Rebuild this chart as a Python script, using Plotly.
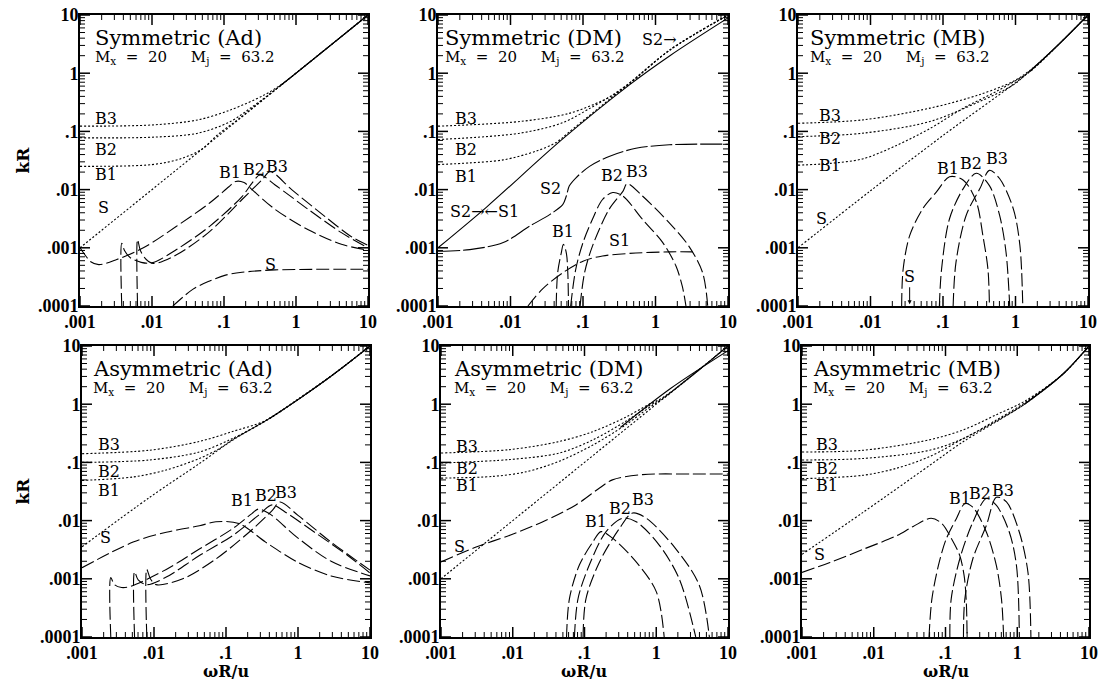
import math
import plotly.graph_objects as go

# ---------------- data ----------------
x_ticks = [0.001, 0.01, 0.1, 1, 10]
x_ticktext = [".001", ".01", ".1", "1", "10"]
y_ticks = [0.0001, 0.001, 0.01, 0.1, 1, 10]
y_ticktext = [".0001", ".001", ".01", ".1", "1", "10"]
minor_mult = [2, 3, 4, 5, 6, 7, 8, 9]
minor_decades = [0.0001, 0.001, 0.01, 0.1, 1]

# Panel 1 : Symmetric (Ad)
p1_S_dot_x = [0.001, 10]
p1_S_dot_y = [0.001, 10]
p1_top_x = [0.6, 10]
p1_top_y = [0.6, 10]
p1_B3_dot_x = [0.001, 0.01, 0.0437, 0.123, 0.355, 0.631, 1.58, 10]
p1_B3_dot_y = [0.123, 0.129, 0.158, 0.234, 0.417, 0.646, 1.58, 10]
p1_B2_dot_x = [0.001, 0.01, 0.0437, 0.123, 0.251, 0.398, 1.58, 10]
p1_B2_dot_y = [0.0776, 0.0794, 0.0933, 0.148, 0.269, 0.407, 1.58, 10]
p1_B1_dot_x = [0.001, 0.01, 0.0251, 0.0501, 0.0794, 0.158, 1.58, 10]
p1_B1_dot_y = [0.0251, 0.0269, 0.0339, 0.0501, 0.0851, 0.162, 1.58, 10]
p1_B1_x = [0.001, 0.00117, 0.00141, 0.00182, 0.00324, 0.00759, 0.0219, 0.0631, 0.117, 0.145, 0.19, 0.245, 0.513, 1.48, 4.27, 10]
p1_B1_y = [0.001, 0.000759, 0.000575, 0.000513, 0.00063, 0.001, 0.00234, 0.00589, 0.0112, 0.0138, 0.0132, 0.01, 0.00457, 0.00204, 0.00115, 0.00091]
p1_B2_x = [0.0038, 0.0038, 0.00417, 0.005, 0.00708, 0.01, 0.0219, 0.0631, 0.178, 0.245, 0.316, 0.513, 1.48, 4.27, 10]
p1_B2_y = [0.0001, 0.0012, 0.00089, 0.000676, 0.000562, 0.00055, 0.000933, 0.00234, 0.00759, 0.0129, 0.0178, 0.012, 0.00457, 0.00182, 0.001]
p1_B3_x = [0.0063, 0.0063, 0.00692, 0.00832, 0.0105, 0.0219, 0.0631, 0.178, 0.339, 0.437, 0.871, 2.51, 5.75, 10]
p1_B3_y = [0.0001, 0.00138, 0.00089, 0.00063, 0.000537, 0.000759, 0.0019, 0.00676, 0.0148, 0.0204, 0.01, 0.00347, 0.00158, 0.0011]
p1_S_x = [0.0195, 0.0372, 0.0631, 0.105, 0.178, 0.513, 10]
p1_S_y = [0.0001, 0.000195, 0.000269, 0.000339, 0.00038, 0.000417, 0.000427]

# Panel 2 : Symmetric (DM)
p2_diag_x = [0.001, 0.00468, 0.0501, 0.437, 1.58, 10]
p2_diag_y = [0.001, 0.00501, 0.0708, 0.631, 2.0, 8.91]
p2_B1_dot_x = [0.001, 0.00275, 0.00794, 0.0224, 0.0427, 0.0631, 0.437, 1.58, 10]
p2_B1_dot_y = [0.0269, 0.0288, 0.0324, 0.0457, 0.0646, 0.0955, 0.676, 2.51, 10]
p2_B2_dot_x = [0.001, 0.0135, 0.0525, 0.126, 0.251, 0.437, 1.58, 10]
p2_B2_dot_y = [0.0724, 0.0933, 0.141, 0.251, 0.417, 0.676, 2.51, 10]
p2_B3_dot_x = [0.001, 0.0135, 0.0646, 0.186, 0.324, 0.437, 1.58, 10]
p2_B3_dot_y = [0.123, 0.148, 0.204, 0.339, 0.49, 0.65, 2.51, 10]
p2_S2_x = [0.001, 0.00275, 0.00794, 0.0182, 0.0347, 0.0525, 0.0589, 0.0646, 0.0794, 0.123, 0.229, 0.537, 1.55, 10]
p2_S2_y = [0.00087, 0.00093, 0.00123, 0.00234, 0.00372, 0.0055, 0.00776, 0.0115, 0.0158, 0.0251, 0.0372, 0.0513, 0.0589, 0.0603]
p2_S1_x = [0.0174, 0.0275, 0.0525, 0.1, 0.186, 0.537, 1.55, 3.24]
p2_S1_y = [0.0001, 0.000195, 0.000372, 0.000589, 0.000724, 0.000813, 0.000851, 0.000851]
p2_B1_x = [0.0427, 0.0447, 0.0501, 0.0537, 0.0589, 0.0617, 0.0631]
p2_B1_y = [0.0001, 0.000372, 0.000813, 0.00115, 0.000813, 0.000372, 0.0001]
p2_B2_x = [0.0676, 0.0794, 0.1, 0.135, 0.186, 0.257, 0.355, 0.661, 1.26, 1.91, 2.34, 2.63]
p2_B2_y = [0.0001, 0.000427, 0.00123, 0.00309, 0.00676, 0.00891, 0.00776, 0.00309, 0.00123, 0.00049, 0.000219, 0.0001]
p2_B3_x = [0.0912, 0.105, 0.135, 0.229, 0.355, 0.407, 0.661, 1.55, 2.88, 4.47, 5.25]
p2_B3_y = [0.0001, 0.000372, 0.00107, 0.00457, 0.00933, 0.0126, 0.00776, 0.00269, 0.00107, 0.000372, 0.0001]

# Panel 3 : Symmetric (MB)
p3_S_dot_x = [0.001, 0.01, 0.1, 1.58, 3.98, 10]
p3_S_dot_y = [0.001, 0.00955, 0.0851, 1.07, 3.16, 10]
p3_top_x = [1.58, 3.98, 10]
p3_top_y = [1.07, 3.16, 10]
p3_B3_dot_x = [0.001, 0.00794, 0.0661, 0.316, 0.933, 1.58, 3.98, 10]
p3_B3_dot_y = [0.138, 0.158, 0.251, 0.427, 0.724, 1.12, 3.16, 10]
p3_B2_dot_x = [0.001, 0.00794, 0.0661, 0.316, 0.933, 1.58, 3.98, 10]
p3_B2_dot_y = [0.0813, 0.0933, 0.148, 0.324, 0.631, 1.1, 3.16, 10]
p3_B1_dot_x = [0.001, 0.00275, 0.00794, 0.0229, 0.0661, 0.191, 0.55, 1.58, 3.98, 10]
p3_B1_dot_y = [0.0263, 0.0282, 0.0339, 0.0575, 0.112, 0.251, 0.49, 1.07, 3.16, 10]
p3_B1_x = [0.0269, 0.0282, 0.0347, 0.0525, 0.0813, 0.123, 0.191, 0.288, 0.355, 0.417, 0.437]
p3_B1_y = [0.0001, 0.000427, 0.00162, 0.00468, 0.00912, 0.0166, 0.0145, 0.00617, 0.00162, 0.000427, 0.0001]
p3_B2_x = [0.0891, 0.0955, 0.123, 0.191, 0.288, 0.437, 0.603, 0.741, 0.832]
p3_B2_y = [0.0001, 0.000427, 0.00316, 0.0105, 0.0191, 0.0117, 0.00363, 0.000832, 0.0001]
p3_B3_x = [0.138, 0.151, 0.209, 0.324, 0.437, 0.603, 0.933, 1.15, 1.26]
p3_B3_y = [0.0001, 0.000562, 0.00363, 0.0105, 0.0214, 0.0155, 0.00468, 0.0011, 0.0001]

# Panel 4 : Asymmetric (Ad)
p4_S_dot_x = [0.001, 0.0087, 0.0427, 0.123, 0.398, 1.0, 3.16, 10]
p4_S_dot_y = [0.00355, 0.0251, 0.0955, 0.24, 0.562, 1.2, 3.31, 10]
p4_top_x = [0.398, 1.0, 3.16, 10]
p4_top_y = [0.562, 1.2, 3.31, 10]
p4_B3_dot_x = [0.001, 0.0087, 0.0427, 0.123, 0.355, 1.0, 3.16, 10]
p4_B3_dot_y = [0.141, 0.162, 0.229, 0.339, 0.525, 1.22, 3.31, 10]
p4_B2_dot_x = [0.001, 0.0087, 0.0427, 0.123, 0.355, 1.0, 3.16, 10]
p4_B2_dot_y = [0.1, 0.11, 0.151, 0.257, 0.52, 1.21, 3.31, 10]
p4_B1_dot_x = [0.001, 0.00513, 0.0148, 0.0427, 0.0794, 0.123, 0.355, 1.0, 3.16, 10]
p4_B1_dot_y = [0.049, 0.0562, 0.0741, 0.117, 0.17, 0.245, 0.52, 1.2, 3.31, 10]
p4_S_x = [0.001, 0.00513, 0.0148, 0.0427, 0.0724, 0.151, 0.355, 1.0, 2.88, 10]
p4_S_y = [0.00155, 0.00427, 0.00631, 0.00813, 0.00955, 0.00891, 0.00427, 0.00191, 0.00112, 0.00085]
p4_B1_x = [0.00251, 0.00251, 0.00282, 0.00355, 0.00468, 0.0148, 0.0427, 0.123, 0.229, 0.282, 0.398, 1.0, 2.88, 10]
p4_B1_y = [0.0001, 0.00105, 0.000794, 0.000708, 0.000741, 0.00145, 0.00324, 0.00724, 0.0132, 0.0158, 0.0132, 0.00501, 0.002, 0.00112]
p4_B2_x = [0.00537, 0.00537, 0.00603, 0.00794, 0.0148, 0.0427, 0.123, 0.282, 0.437, 0.661, 1.7, 4.9, 10]
p4_B2_y = [0.0001, 0.00132, 0.000955, 0.000794, 0.00107, 0.00251, 0.0055, 0.0123, 0.0186, 0.0141, 0.00631, 0.00251, 0.00126]
p4_B3_x = [0.00794, 0.00794, 0.00891, 0.0107, 0.0251, 0.0724, 0.209, 0.437, 0.562, 1.0, 2.88, 10]
p4_B3_y = [0.0001, 0.00145, 0.001, 0.000794, 0.001, 0.00219, 0.00631, 0.0148, 0.0209, 0.0123, 0.00427, 0.00141]

# Panel 5 : Asymmetric (DM)
p5_S_dot_x = [0.001, 10]
p5_S_dot_y = [0.001, 10]
p5_top_x = [0.316, 1.58, 10]
p5_top_y = [0.398, 1.86, 8.32]
p5_B3_dot_x = [0.001, 0.00912, 0.0447, 0.132, 0.38, 0.794, 1.26, 10]
p5_B3_dot_y = [0.145, 0.166, 0.229, 0.339, 0.603, 1.0, 1.32, 10]
p5_B2_dot_x = [0.001, 0.00912, 0.0447, 0.132, 0.38, 0.794, 1.26, 10]
p5_B2_dot_y = [0.0977, 0.112, 0.145, 0.245, 0.513, 0.933, 1.29, 10]
p5_B1_dot_x = [0.001, 0.00537, 0.0155, 0.0447, 0.132, 0.38, 0.794, 1.26, 10]
p5_B1_dot_y = [0.0537, 0.0575, 0.0692, 0.105, 0.2, 0.447, 0.871, 1.26, 10]
p5_S_x = [0.001, 0.00316, 0.00912, 0.0263, 0.0759, 0.162, 0.245, 0.646, 3.16, 10]
p5_S_y = [0.00195, 0.00355, 0.00562, 0.00955, 0.0186, 0.0363, 0.0501, 0.0617, 0.0631, 0.0631]
p5_B1_x = [0.0562, 0.0617, 0.0851, 0.132, 0.17, 0.245, 0.525, 1.0, 1.29]
p5_B1_y = [0.0001, 0.000457, 0.00174, 0.00437, 0.00646, 0.00501, 0.00195, 0.000603, 0.0001]
p5_B2_x = [0.0724, 0.0813, 0.117, 0.2, 0.339, 0.525, 1.1, 2.09, 3.55]
p5_B2_y = [0.0001, 0.000457, 0.00174, 0.00646, 0.011, 0.00955, 0.0038, 0.001, 0.0001]
p5_B3_x = [0.0955, 0.105, 0.162, 0.309, 0.468, 0.724, 1.86, 3.98, 5.5]
p5_B3_y = [0.0001, 0.000457, 0.00195, 0.00741, 0.0135, 0.011, 0.00331, 0.000776, 0.0001]

# Panel 6 : Asymmetric (MB)
p6_S_dot_x = [0.001, 0.00724, 0.0603, 0.178, 0.513, 1.26, 4.27, 10]
p6_S_dot_y = [0.00263, 0.0141, 0.0891, 0.229, 0.501, 1.0, 3.24, 10]
p6_top_x = [1.26, 4.27, 10]
p6_top_y = [1.0, 3.24, 10]
p6_B3_dot_x = [0.001, 0.00724, 0.0603, 0.178, 0.513, 1.26, 4.27, 10]
p6_B3_dot_y = [0.151, 0.162, 0.245, 0.363, 0.661, 1.12, 3.24, 10]
p6_B2_dot_x = [0.001, 0.00724, 0.0603, 0.178, 0.513, 1.26, 4.27, 10]
p6_B2_dot_y = [0.11, 0.117, 0.162, 0.257, 0.537, 1.05, 3.24, 10]
p6_B1_dot_x = [0.001, 0.00724, 0.0209, 0.0603, 0.178, 0.513, 1.26, 4.27, 10]
p6_B1_dot_y = [0.0525, 0.0603, 0.0794, 0.126, 0.257, 0.513, 1.0, 3.24, 10]
p6_S_x = [0.001, 0.00245, 0.00724, 0.0209, 0.0355, 0.0631, 0.0891, 0.12, 0.158, 0.182, 0.195, 0.2]
p6_S_y = [0.00129, 0.00191, 0.00324, 0.0055, 0.00794, 0.011, 0.00891, 0.00501, 0.00251, 0.00112, 0.000398, 0.0001]
p6_B1_x = [0.0589, 0.0646, 0.0794, 0.102, 0.141, 0.186, 0.24, 0.372, 0.513, 0.603, 0.646]
p6_B1_y = [0.0001, 0.000447, 0.00166, 0.00479, 0.0107, 0.0195, 0.017, 0.00631, 0.00166, 0.000447, 0.0001]
p6_B2_x = [0.115, 0.12, 0.158, 0.24, 0.372, 0.513, 0.776, 0.977, 1.07]
p6_B2_y = [0.0001, 0.000447, 0.00219, 0.00933, 0.024, 0.0182, 0.00631, 0.00166, 0.0001]
p6_B3_x = [0.178, 0.186, 0.24, 0.372, 0.513, 0.708, 1.07, 1.41, 1.55]
p6_B3_y = [0.0001, 0.000447, 0.00219, 0.00832, 0.0251, 0.0209, 0.00631, 0.00129, 0.0001]

titles = ["Symmetric (Ad)", "Symmetric (DM)", "Symmetric (MB)",
          "Asymmetric (Ad)", "Asymmetric (DM)", "Asymmetric (MB)"]
NB = "\u00a0"
param_text = ("M<sub>x</sub>" + NB * 2 + "=" + NB * 2 + "20" + NB * 5 +
              "M<sub>j</sub>" + NB * 2 + "=" + NB * 2 + "63.2")

# ---------------- styling ----------------
FONT = "DejaVu Serif"
TICKFONT = "Liberation Serif"
DOT = dict(color="black", width=1.1, dash="2px,2px")
DASH = dict(color="black", width=1.1, dash="13px,4px")
SOLID = dict(color="black", width=1.1)

panels = [
    dict(curves=[(p1_S_dot_x, p1_S_dot_y, DOT), (p1_top_x, p1_top_y, SOLID),
                 (p1_B3_dot_x, p1_B3_dot_y, DOT), (p1_B2_dot_x, p1_B2_dot_y, DOT),
                 (p1_B1_dot_x, p1_B1_dot_y, DOT), (p1_B1_x, p1_B1_y, DASH),
                 (p1_B2_x, p1_B2_y, DASH), (p1_B3_x, p1_B3_y, DASH), (p1_S_x, p1_S_y, DASH)],
         labels=[("B3", -2.64, -0.77), ("B2", -2.64, -1.31), ("B1", -2.64, -1.74), ("S", -2.68, -2.31),
                 ("B1", -0.91, -1.71), ("B2", -0.59, -1.66), ("B3", -0.27, -1.6), ("S", -0.36, -3.29)],
         tx=0.045),
    dict(curves=[(p2_diag_x, p2_diag_y, SOLID),
                 (p2_B3_dot_x, p2_B3_dot_y, DOT), (p2_B2_dot_x, p2_B2_dot_y, DOT),
                 (p2_B1_dot_x, p2_B1_dot_y, DOT), (p2_S2_x, p2_S2_y, dict(color="black", width=1.1, dash="22px,3px")),
                 (p2_S1_x, p2_S1_y, DASH), (p2_B1_x, p2_B1_y, DASH),
                 (p2_B2_x, p2_B2_y, DASH), (p2_B3_x, p2_B3_y, DASH)],
         labels=[("B3", -2.61, -0.77), ("B2", -2.61, -1.31), ("B1", -2.61, -1.77),
                 ("S2\u2192", 0.06, 0.58), ("S2\u2192\u2190S1", -2.36, -2.37), ("S2", -1.45, -1.98),
                 ("B1", -1.28, -2.72), ("S1", -0.5, -2.88), ("B2", -0.6, -1.76), ("B3", -0.26, -1.69)],
         tx=0.018),
    dict(curves=[(p3_S_dot_x, p3_S_dot_y, DOT), (p3_top_x, p3_top_y, SOLID),
                 (p3_B3_dot_x, p3_B3_dot_y, DOT), (p3_B2_dot_x, p3_B2_dot_y, DOT),
                 (p3_B1_dot_x, p3_B1_dot_y, DOT), (p3_B1_x, p3_B1_y, DASH),
                 (p3_B2_x, p3_B2_y, DASH), (p3_B3_x, p3_B3_y, DASH)],
         labels=[("B3", -2.56, -0.72), ("B2", -2.56, -1.12), ("B1", -2.56, -1.58), ("S", -2.68, -2.5),
                 ("B1", -0.93, -1.64), ("B2", -0.61, -1.55), ("B3", -0.26, -1.47)],
         tx=0.035),
    dict(curves=[(p4_S_dot_x, p4_S_dot_y, DOT), (p4_top_x, p4_top_y, SOLID),
                 (p4_B3_dot_x, p4_B3_dot_y, DOT), (p4_B2_dot_x, p4_B2_dot_y, DOT),
                 (p4_B1_dot_x, p4_B1_dot_y, DOT), (p4_S_x, p4_S_y, DASH),
                 (p4_B1_x, p4_B1_y, DASH), (p4_B2_x, p4_B2_y, DASH), (p4_B3_x, p4_B3_y, DASH)],
         labels=[("B3", -2.63, -0.7), ("B2", -2.63, -1.16), ("B1", -2.63, -1.48), ("S", -2.68, -2.29),
                 ("B1", -0.78, -1.65), ("B2", -0.45, -1.57), ("B3", -0.16, -1.51)],
         tx=0.03),
    dict(curves=[(p5_S_dot_x, p5_S_dot_y, DOT), (p5_top_x, p5_top_y, SOLID),
                 (p5_B3_dot_x, p5_B3_dot_y, DOT), (p5_B2_dot_x, p5_B2_dot_y, DOT),
                 (p5_B1_dot_x, p5_B1_dot_y, DOT), (p5_S_x, p5_S_y, DASH),
                 (p5_B1_x, p5_B1_y, DASH), (p5_B2_x, p5_B2_y, DASH), (p5_B3_x, p5_B3_y, DASH)],
         labels=[("B3", -2.64, -0.72), ("B2", -2.64, -1.1), ("B1", -2.64, -1.39), ("S", -2.74, -2.45),
                 ("B1", -0.84, -2.02), ("B2", -0.51, -1.79), ("B3", -0.19, -1.64)],
         tx=0.038),
    dict(curves=[(p6_S_dot_x, p6_S_dot_y, DOT), (p6_top_x, p6_top_y, SOLID),
                 (p6_B3_dot_x, p6_B3_dot_y, DOT), (p6_B2_dot_x, p6_B2_dot_y, DOT),
                 (p6_B1_dot_x, p6_B1_dot_y, DOT), (p6_S_x, p6_S_y, DASH),
                 (p6_B1_x, p6_B1_y, DASH), (p6_B2_x, p6_B2_y, DASH), (p6_B3_x, p6_B3_y, DASH)],
         labels=[("B3", -2.65, -0.7), ("B2", -2.65, -1.1), ("B1", -2.65, -1.39), ("S", -2.75, -2.58),
                 ("B1", -0.8, -1.62), ("B2", -0.52, -1.54), ("B3", -0.2, -1.48)],
         tx=0.03),
]

W, H = 1108, 680
col_px = [[(80, 368), (438, 728), (798, 1088)],
          [(82, 370), (441, 728), (802, 1089)]]
row_px = [(15, 306), (346, 637)]
X_RANGE = [-3, 1]
Y_RANGE = [-4, 1]

minor_vals = [m * d for d in minor_decades for m in minor_mult]
x_minor = [v for v in minor_vals if x_ticks[0] < v < x_ticks[-1]]
y_minor = [v for v in minor_vals if y_ticks[0] < v < y_ticks[-1]]


def tick_segments(xv, yv, xlen_px, ylen_px, x_ppd, y_ppd):
    """Inside tick marks on all four frame sides, as line segments in data space."""
    xs_, ys_ = [], []
    ylo, yhi = y_ticks[0], y_ticks[-1]
    xlo, xhi = x_ticks[0], x_ticks[-1]
    fy = 10 ** (ylen_px / y_ppd)
    fx = 10 ** (xlen_px / x_ppd)
    for v in xv:  # bottom and top
        xs_ += [v, v, None, v, v, None]
        ys_ += [ylo, ylo * fy, None, yhi, yhi / fy, None]
    for v in yv:  # left and right
        xs_ += [xlo, xlo * fx, None, xhi, xhi / fx, None]
        ys_ += [v, v, None, v, v, None]
    return xs_, ys_


fig = go.Figure()
annotations = []
layout = dict(width=W, height=H, margin=dict(l=0, r=0, t=0, b=0),
              paper_bgcolor="white", plot_bgcolor="white", showlegend=False)

for i, p in enumerate(panels):
    n = i + 1
    r, c = divmod(i, 3)
    xs = "" if n == 1 else str(n)
    x0, x1 = col_px[r][c]
    y0, y1 = row_px[r]
    x_ppd = (x1 - x0) / (X_RANGE[1] - X_RANGE[0])
    y_ppd = (y1 - y0) / (Y_RANGE[1] - Y_RANGE[0])
    for (cx, cy, st) in p["curves"]:
        fig.add_trace(go.Scatter(x=cx, y=cy, mode="lines",
                                 line=dict(shape="spline", smoothing=0.9, **st),
                                 xaxis="x" + xs, yaxis="y" + xs, hoverinfo="skip",
                                 showlegend=False))
    # tick marks (major 10 px, minor 5 px) drawn inside the frame through the log axes
    for (xv, yv, L, wdt) in [(x_ticks, y_ticks, 10, 1.5), (x_minor, y_minor, 5, 1.0)]:
        tx_, ty_ = tick_segments(xv, yv, L, L, x_ppd, y_ppd)
        fig.add_trace(go.Scatter(x=tx_, y=ty_, mode="lines",
                                 line=dict(color="black", width=wdt),
                                 xaxis="x" + xs, yaxis="y" + xs, hoverinfo="skip",
                                 showlegend=False, connectgaps=False))
    xdom = [x0 / W, x1 / W]
    ydom = [1 - y1 / H, 1 - y0 / H]
    common = dict(type="log", showline=True, linecolor="black", linewidth=2,
                  mirror=True, ticks="", showgrid=False, zeroline=False,
                  tickfont=dict(family=TICKFONT, size=18, color="black", weight="bold"),
                  automargin=False, fixedrange=True)
    layout["xaxis" + xs] = dict(common, range=X_RANGE, domain=xdom, anchor="y" + xs,
                                tickmode="array", tickvals=x_ticks, ticktext=x_ticktext,
                                ticklabelstandoff=-2)
    layout["yaxis" + xs] = dict(common, range=Y_RANGE, domain=ydom, anchor="x" + xs,
                                tickmode="array", tickvals=y_ticks, ticktext=y_ticktext,
                                ticklabelstandoff=-4)
    xd, yd = "x" + xs + " domain", "y" + xs + " domain"
    xref, yref = "x" + xs, "y" + xs
    annotations.append(dict(text=titles[i], xref=xd, yref=yd,
                            x=p["tx"], y=0.92, xanchor="left", yanchor="middle", showarrow=False,
                            font=dict(family=FONT, size=21, color="black")))
    annotations.append(dict(text=param_text, xref=xd, yref=yd,
                            x=p["tx"], y=0.855, xanchor="left", yanchor="middle", showarrow=False,
                            font=dict(family=FONT, size=15, color="black")))
    for (t, lx, ly) in p["labels"]:
        annotations.append(dict(text=t, xref=xref, yref=yref, x=lx, y=ly, showarrow=False,
                                font=dict(family=FONT, size=16, color="black")))

# arrow label "S" in panel 3
annotations.append(dict(text="S", xref="x3", yref="y3", x=-1.46, y=-3.97, showarrow=True,
                        ax=0, ay=-28, arrowhead=2, arrowsize=0.8, arrowwidth=1,
                        arrowcolor="black", font=dict(family=FONT, size=16, color="black")))

# axis titles
for (ya, yb) in row_px:
    annotations.append(dict(text="kR", xref="paper", yref="paper", x=22 / W,
                            y=1 - (ya + yb) / 2 / H, xanchor="center", yanchor="middle",
                            textangle=-90, showarrow=False,
                            font=dict(family=FONT, size=17, color="black", weight="bold")))
for (xa, xb) in col_px[1]:
    annotations.append(dict(text="\u03c9R/u", xref="paper", yref="paper",
                            x=(xa + xb) / 2 / W, y=1 - 671 / H, showarrow=False,
                            xanchor="center", yanchor="middle",
                            font=dict(family=FONT, size=16, color="black", weight="bold")))

layout["annotations"] = annotations
fig.update_layout(**layout)
fig.write_html("out.html", config={"displayModeBar": False},
               post_script="document.body.style.margin='0px';document.body.style.padding='0px';")
